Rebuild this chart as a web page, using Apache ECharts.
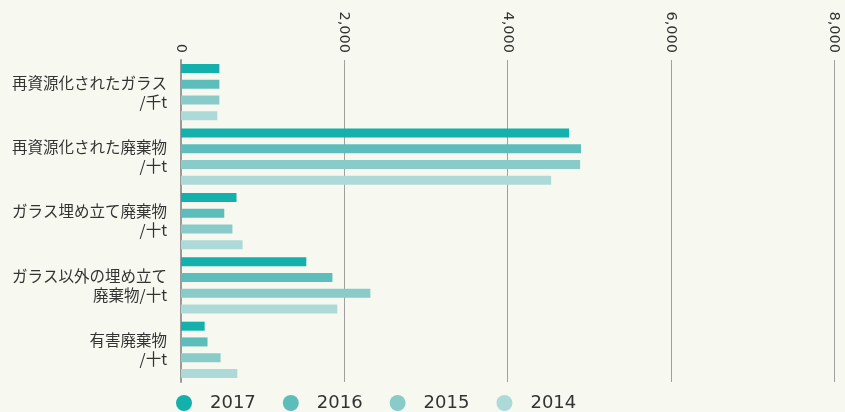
<!DOCTYPE html>
<html>
<head>
<meta charset="utf-8">
<script src="https://cdn.jsdelivr.net/npm/echarts@6/dist/echarts.min.js"></script>
<style>
  html, body { margin: 0; padding: 0; background: #f7f9f1; }
  #main { width: 845px; height: 412px; }
</style>
</head>
<body>
<div id="main"></div>
<script>
// categories (top to bottom)
var categories = [
  '再資源化されたガラス\n/千t',
  '再資源化された廃棄物\n/十t',
  'ガラス埋め立て廃棄物\n/十t',
  'ガラス以外の埋め立て\n廃棄物/十t',
  '有害廃棄物\n/十t'
]
var years = ['2017', '2016', '2015', '2014']
var colors = ['#13b0ac', '#5dbdbb', '#89cbc9', '#addad8']

// values
var v2017 = [470, 4755, 680, 1535, 290]
var v2016 = [470, 4900, 530, 1855, 325]
var v2015 = [470, 4890, 630, 2320, 485]
var v2014 = [445, 4535, 755, 1915, 690]
var xTicks = [0, 2000, 4000, 6000, 8000]

var values = [v2017, v2016, v2015, v2014]

var chart = echarts.init(document.getElementById('main'))

var option = {
  backgroundColor: '#f7f9f1',
  animation: false,
  grid: {
    left: 181,
    right: 11,
    top: 60,
    bottom: 30
  },
  legend: {
    bottom: -5,
    left: 171,
    icon: 'circle',
    itemWidth: 16,
    itemHeight: 16,
    itemGap: 27,
    data: years,
    textStyle: {
      fontFamily: 'DejaVu Sans',
      fontSize: 18,
      color: '#333',
      padding: [0, 0, 0, 13]
    }
  },
  xAxis: {
    type: 'value',
    position: 'top',
    min: xTicks[0],
    max: xTicks[xTicks.length - 1],
    interval: 2000,
    axisLine: { show: false },
    axisTick: { show: false },
    splitLine: { lineStyle: { color: '#a0a0a0', width: 1 } },
    axisLabel: {
      rotate: 90,
      margin: 7,
      fontFamily: 'DejaVu Sans',
      fontSize: 14.5,
      color: '#333',
      formatter: function (v) { return v.toLocaleString('en-US') }
    }
  },
  yAxis: {
    type: 'category',
    inverse: true,
    data: categories,
    axisLine: { lineStyle: { color: '#9a9a9a', width: 2 } },
    axisTick: {
      alignWithLabel: true,
      length: 8,
      lineStyle: { color: '#9a9a9a' }
    },
    axisLabel: {
      margin: 14,
      fontFamily: 'Noto Sans CJK JP',
      fontSize: 15.5,
      lineHeight: 19,
      color: '#333',
      align: 'right'
    }
  },
  series: years.map(function (y, i) {
    return {
      name: y,
      type: 'bar',
      data: values[i],
      barWidth: 9,
      barGap: '75%',
      itemStyle: { color: colors[i] }
    }
  })
}

chart.setOption(option)
</script>
</body>
</html>
